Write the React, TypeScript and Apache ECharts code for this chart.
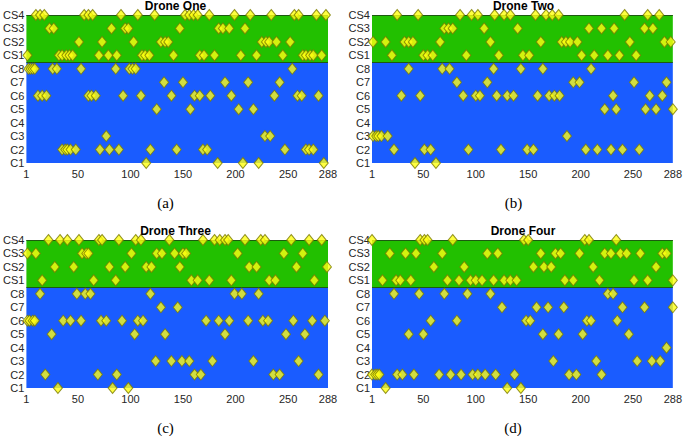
import React, { useEffect, useRef } from "react";
import * as echarts from "echarts";

const ROW_LABELS = ["C1", "C2", "C3", "C4", "C5", "C6", "C7", "C8", "CS1", "CS2", "CS3", "CS4"];
const X_TICKS = [1, 50, 100, 150, 200, 250, 288];
const TITLES = ["Drone One", "Drone Two", "Drone Three", "Drone Four"];
const CAPTIONS = ["(a)", "(b)", "(c)", "(d)"];

// rows ordered C1..C8, CS1..CS4 ; values are time slots (1..288)
const droneOne: number[][] = [
  [115, 183, 207, 222, 284],
  [35, 38, 40, 43, 48, 71, 80, 89, 119, 144, 169, 173, 247, 267, 270, 274],
  [77, 228, 233],
  [],
  [125, 157, 203, 217],
  [12, 16, 20, 60, 63, 67, 93, 110, 139, 161, 166, 176, 196, 237, 259, 263, 279],
  [132, 150, 190, 212, 242],
  [3, 5, 7, 9, 26, 30, 53, 86, 99, 102, 105, 254],
  [2, 32, 35, 39, 42, 45, 70, 79, 87, 111, 114, 118, 141, 166, 170, 180, 205, 220, 245, 264, 267, 271, 274, 282],
  [51, 73, 103, 129, 133, 136, 225, 229, 232, 239, 252],
  [23, 27, 82, 95, 98, 147, 184, 188, 194, 209],
  [10, 14, 18, 56, 60, 64, 91, 107, 123, 152, 156, 160, 164, 175, 199, 214, 234, 256, 260, 277, 286],
];

const droneTwo: number[][] = [
  [42, 62],
  [22, 51, 57, 93, 124, 149, 155, 205, 216, 229, 240, 256],
  [2, 5, 7, 10, 16, 187],
  [],
  [223, 234, 262, 272, 288],
  [29, 47, 88, 100, 104, 120, 130, 136, 159, 170, 175, 180, 231, 266, 278],
  [82, 111, 193, 199, 251, 282],
  [36, 68, 75, 117, 143, 164, 210],
  [20, 50, 54, 59, 91, 122, 145, 151, 201, 213, 226, 237, 253],
  [2, 14, 32, 36, 40, 66, 114, 162, 182, 186, 190, 197, 247, 280, 286],
  [70, 74, 78, 108, 140, 208, 220, 232, 261, 269],
  [25, 45, 85, 96, 102, 118, 127, 133, 157, 167, 173, 179, 242, 264, 275],
];

const droneThree: number[][] = [
  [31, 83, 98],
  [19, 69, 87, 161, 167, 236, 242, 279],
  [124, 139, 149, 156, 178, 217, 260],
  [],
  [25, 104, 133, 190, 248, 266],
  [2, 4, 7, 9, 36, 43, 53, 72, 77, 92, 107, 112, 172, 184, 194, 212, 226, 231, 255, 273, 285],
  [129, 145],
  [14, 49, 57, 62, 119, 199, 206, 222],
  [16, 65, 86, 158, 164, 175, 196, 232, 238, 275],
  [28, 46, 80, 95, 115, 120, 147, 213, 220, 258, 287],
  [2, 10, 54, 58, 60, 101, 125, 130, 142, 150, 153, 202, 246, 264],
  [22, 33, 40, 51, 70, 73, 89, 105, 110, 137, 169, 180, 185, 190, 193, 209, 224, 228, 253, 270, 282],
];

const droneFour: number[][] = [
  [14, 130, 143],
  [1, 4, 6, 8, 25, 30, 41, 65, 76, 86, 97, 102, 109, 119, 137, 189, 196, 220],
  [174, 215, 254, 268, 276],
  [282],
  [36, 50, 164, 179, 202, 246],
  [57, 82, 148, 152, 206, 210, 235],
  [125, 158, 169, 184, 240, 261, 288],
  [22, 46, 70, 92, 114, 226, 231],
  [11, 24, 28, 38, 73, 84, 95, 100, 106, 117, 127, 133, 139, 185, 193, 218, 251, 264, 288],
  [60, 89, 155, 165, 172, 212, 272],
  [18, 33, 43, 68, 111, 121, 162, 176, 181, 199, 223, 229, 238, 244, 257, 278, 282],
  [1, 47, 51, 54, 78, 146, 150, 204, 208, 234],
];

const DRONES = [droneOne, droneTwo, droneThree, droneFour];

const GRIDS = [
  { left: 23, top: 15, width: 305, height: 148 },
  { left: 372, top: 15, width: 303, height: 148 },
  { left: 23, top: 240, width: 305, height: 148 },
  { left: 372, top: 240, width: 302, height: 148 },
];

const GREEN = "#22c000";
const BLUE = "#1a5cff";
const SANS = "Liberation Sans, Arial, sans-serif";

export default function App() {
  const ref = useRef<HTMLDivElement>(null);
  useEffect(() => {
    document.body.style.margin = "0";
    if (!ref.current) return;
    const chart = echarts.init(ref.current, undefined, { renderer: "svg" });

    const xAxis = GRIDS.map((_, i) => ({
      type: "value",
      gridIndex: i,
      min: 1,
      max: 288,
      axisLine: { show: false },
      axisTick: { show: false },
      splitLine: { show: false },
      axisLabel: {
        customValues: X_TICKS,
        color: "#262626",
        fontSize: 11,
        fontFamily: SANS,
        margin: 5,
      },
    }));

    const yAxis = GRIDS.map((_, i) => ({
      type: "value",
      gridIndex: i,
      min: 1,
      max: 12,
      interval: 1,
      axisLine: { show: false },
      axisTick: { show: false },
      splitLine: { show: false },
      axisLabel: {
        color: "#262626",
        fontSize: 11,
        fontFamily: SANS,
        margin: 2,
        formatter: (v: number) => ROW_LABELS[Math.round(v) - 1] ?? "",
      },
    }));

    const series: any[] = [];
    DRONES.forEach((rows, i) => {
      series.push({
        type: "line",
        xAxisIndex: i,
        yAxisIndex: i,
        data: [],
        silent: true,
        markArea: {
          silent: true,
          data: [
            [{ xAxis: 1, yAxis: 1, itemStyle: { color: BLUE } }, { xAxis: 288, yAxis: 8.5 }],
            [{ xAxis: 1, yAxis: 8.5, itemStyle: { color: GREEN } }, { xAxis: 288, yAxis: 12 }],
          ],
        },
        markLine: {
          silent: true,
          symbol: "none",
          label: { show: false },
          lineStyle: { color: "#1d5a10", width: 1, type: "solid" },
          data: [
            [{ coord: [1, 8.5] }, { coord: [288, 8.5] }],
            [{ coord: [1, 12] }, { coord: [288, 12] }],
          ],
        },
      });
      const pts: number[][] = [];
      rows.forEach((vals, r) => vals.forEach((x) => pts.push([x, r + 1])));
      series.push({
        type: "scatter",
        xAxisIndex: i,
        yAxisIndex: i,
        clip: false,
        symbol: "diamond",
        symbolSize: [9, 11],
        itemStyle: { color: "#ffff12", borderColor: "#7a7a00", borderWidth: 1 },
        data: pts,
        z: 5,
      });
    });

    const graphic: any[] = [];
    GRIDS.forEach((g, i) => {
      const cx = g.left + g.width / 2;
      graphic.push({
        type: "text",
        x: cx,
        y: g.top - 9,
        z: 100,
        style: {
          text: TITLES[i],
          fill: "#000",
          font: `bold 12px ${SANS}`,
          textAlign: "center",
          textVerticalAlign: "middle",
        },
      });
      graphic.push({
        type: "text",
        x: g.left + g.width / 2 - 10,
        y: g.top + g.height + 40,
        style: {
          text: CAPTIONS[i],
          fill: "#000",
          font: "15px Liberation Serif, DejaVu Serif, serif",
          textAlign: "center",
          textVerticalAlign: "middle",
        },
      });
    });

    chart.setOption({
      animation: false,
      backgroundColor: "#ffffff",
      grid: GRIDS.map((g) => ({ ...g, containLabel: false })),
      xAxis,
      yAxis,
      series,
      graphic,
    });
    return () => chart.dispose();
  }, []);
  return (
    <div
      ref={ref}
      style={{ position: "fixed", left: 0, top: 0, width: 685, height: 436 }}
    />
  );
}
